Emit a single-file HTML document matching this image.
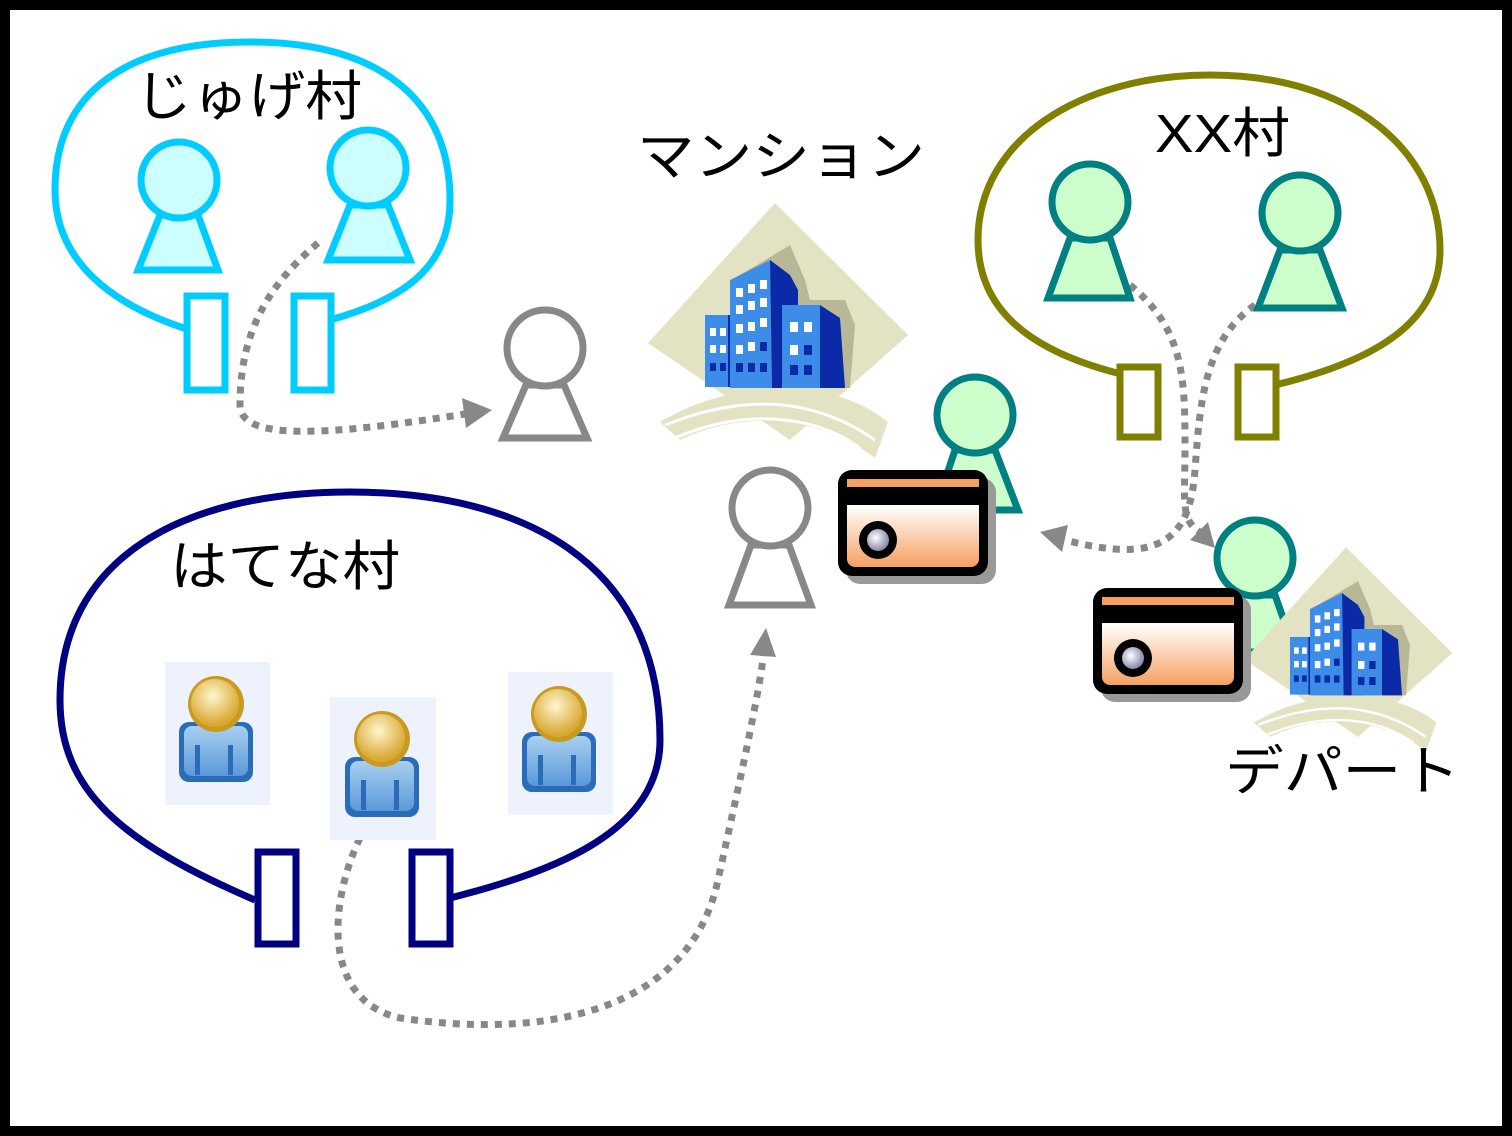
<!DOCTYPE html>
<html><head><meta charset="utf-8"><style>
html,body{margin:0;padding:0;background:#fff}
svg{display:block}
text{font-family:"Liberation Sans","Noto Sans CJK JP",sans-serif}
</style></head><body>
<svg width="1512" height="1136" viewBox="0 0 1512 1136" xmlns="http://www.w3.org/2000/svg">
<defs>
<linearGradient id="cg" x1="0" y1="0" x2="0" y2="1"><stop offset="0.3" stop-color="#fff"/><stop offset="1" stop-color="#f5a060"/></linearGradient>
<radialGradient id="lg" cx="0.4" cy="0.4" r="0.6"><stop offset="0" stop-color="#fff"/><stop offset="1" stop-color="#8888aa"/></radialGradient>
<radialGradient id="hg" cx="0.45" cy="0.35" r="0.6"><stop offset="0" stop-color="#fff6d0"/><stop offset="1" stop-color="#d9a830"/></radialGradient>
<linearGradient id="bg" x1="0" y1="0" x2="0" y2="1"><stop offset="0" stop-color="#a8d0f0"/><stop offset="1" stop-color="#5a98d8"/></linearGradient>
<g id="bld">
  <polygon points="135,3 268,135 150,240 8,143" fill="#e3e3c4"/>
  <polygon points="100,75 150,45 165,80 170,100 205,100 215,125 210,188 100,188" fill="#b8b898"/>
  <rect x="65" y="115" width="30" height="72" fill="#3c8ce8"/>
  <rect x="88" y="115" width="8" height="72" fill="#0a2aa8"/>
  <polygon points="90,80 130,60 132,188 90,188" fill="#3c8ce8"/>
  <polygon points="130,60 150,75 158,90 158,188 132,188" fill="#0a2aa8"/>
  <rect x="142" y="105" width="38" height="83" fill="#3c8ce8"/>
  <polygon points="180,105 200,118 205,188 180,188" fill="#0a2aa8"/>
  <g fill="#fff">
    <rect x="70" y="128" width="6" height="8"/><rect x="80" y="128" width="6" height="8"/>
    <rect x="70" y="145" width="6" height="8"/><rect x="80" y="145" width="6" height="8"/>
    <rect x="96" y="88" width="7" height="9"/><rect x="108" y="84" width="7" height="9"/><rect x="120" y="80" width="7" height="9"/>
    <rect x="96" y="105" width="7" height="9"/><rect x="108" y="101" width="7" height="9"/><rect x="120" y="98" width="7" height="9"/>
    <rect x="96" y="124" width="7" height="9"/><rect x="108" y="122" width="7" height="9"/><rect x="120" y="118" width="7" height="9"/>
    <rect x="96" y="145" width="7" height="9"/><rect x="108" y="142" width="7" height="9"/>
    <rect x="150" y="122" width="8" height="10"/><rect x="164" y="122" width="8" height="10"/>
    <rect x="150" y="145" width="8" height="10"/>
  </g>
  <g fill="#0a2aa8">
    <rect x="70" y="163" width="6" height="8"/><rect x="80" y="163" width="6" height="8"/>
    <rect x="96" y="163" width="7" height="9"/><rect x="108" y="163" width="7" height="9"/><rect x="120" y="163" width="7" height="9"/>
    <rect x="120" y="142" width="7" height="9"/><rect x="164" y="145" width="8" height="10"/>
    <rect x="150" y="165" width="8" height="10"/><rect x="164" y="165" width="8" height="10"/>
  </g>
  <path d="M20,222 C90,180 190,175 248,222 L235,258 C180,215 100,210 40,240 Z" fill="#e3e3c4"/>
  <path d="M25,225 C100,195 170,195 235,240" stroke="#fff" stroke-width="3" fill="none"/>
  <path d="M35,238 C100,210 170,212 220,248" stroke="#fff" stroke-width="3" fill="none"/>
</g>
<g id="card">
  <rect x="8" y="8" width="150" height="106" rx="14" fill="#999"/>
  <rect x="0" y="0" width="150" height="106" rx="14" fill="#000"/>
  <rect x="9" y="9" width="132" height="88" rx="8" fill="url(#cg)"/>
  <rect x="9" y="9" width="132" height="8" fill="#f5a060"/>
  <rect x="0" y="17" width="150" height="18" fill="#000"/>
  <circle cx="40" cy="70" r="19" fill="#000"/>
  <circle cx="40" cy="70" r="11" fill="url(#lg)"/>
</g>
<g id="uicon">
  <rect x="-16" y="42" width="74" height="60" rx="10" fill="#2a6cb8"/>
  <rect x="-11" y="46" width="64" height="50" rx="8" fill="url(#bg)"/>
  <rect x="0" y="65" width="5" height="30" fill="#2a6cb8"/><rect x="33" y="65" width="5" height="30" fill="#2a6cb8"/>
  <circle cx="21" cy="24" r="28" fill="#c89a20"/>
  <circle cx="20" cy="23" r="24" fill="url(#hg)"/>
</g>
</defs>

<rect x="0" y="0" width="1512" height="1136" fill="#000"/>
<rect x="10" y="10" width="1492" height="1116" fill="#fff"/>

<!-- じゅげ村 -->
<path d="M190,330 C110,305 55,260 55,190 C55,90 130,42 250,42 C380,42 450,100 450,200 C450,270 400,300 330,320" fill="none" stroke="#00ccff" stroke-width="7"/>
<rect x="187" y="296" width="38" height="94" fill="#fff" stroke="#00ccff" stroke-width="7"/>
<rect x="294" y="296" width="37" height="94" fill="#fff" stroke="#00ccff" stroke-width="7"/>
<text x="135" y="115" font-size="54" textLength="227" lengthAdjust="spacingAndGlyphs">じゅげ村</text>
<g fill="#ccffff" stroke="#00ccff" stroke-width="7">
<polygon points="160,215 198,215 218,270 138,270"/><circle cx="179" cy="180" r="38"/>
<polygon points="350,205 388,205 410,260 328,260"/><circle cx="368" cy="168" r="38"/>
</g>

<!-- gray persons -->
<g fill="#fff" stroke="#888" stroke-width="7">
<polygon points="526,385 564,385 587,438 503,438"/><circle cx="545" cy="348" r="38"/>
<polygon points="751,545 789,545 811,605 729,605"/><circle cx="770" cy="508" r="38"/>
</g>

<!-- dotted arrows -->
<g fill="none" stroke="#888" stroke-width="7" stroke-dasharray="7 7">
<path d="M318,243 C262,290 240,340 240,405 C240,440 320,437 465,414"/>
<path d="M360,838 C330,900 320,1000 400,1018 C550,1040 690,1010 718,880 C740,780 758,700 764,652"/>
<path d="M1130,285 C1185,330 1185,380 1185,450 C1185,500 1180,520 1200,532"/>
<path d="M1255,305 C1205,340 1200,400 1195,470 C1190,540 1160,565 1065,540"/>
</g>
<g fill="#888">
<polygon points="492,410 462,398 466,428"/>
<polygon points="766,628 750,655 776,657"/>
<polygon points="1215,548 1190,540 1208,522"/>
<polygon points="1040,532 1068,525 1062,552"/>
</g>

<!-- mansion -->
<text x="637" y="175" font-size="54" textLength="288" lengthAdjust="spacingAndGlyphs">マンション</text>
<use href="#bld" transform="translate(640,200)"/>

<!-- XX村 -->
<path d="M1125,375 C1030,352 978,310 978,240 C978,140 1080,75 1210,75 C1350,75 1440,150 1440,250 C1440,320 1380,360 1275,385" fill="none" stroke="#808000" stroke-width="7"/>
<rect x="1120" y="367" width="38" height="70" fill="#fff" stroke="#808000" stroke-width="7"/>
<rect x="1238" y="367" width="38" height="70" fill="#fff" stroke="#808000" stroke-width="7"/>
<text x="1155" y="152" font-size="54" textLength="135" lengthAdjust="spacingAndGlyphs">XX村</text>
<g fill="#ccffcc" stroke="#008080" stroke-width="7">
<polygon points="1070,238 1110,238 1130,298 1048,298"/><circle cx="1090" cy="202" r="38"/>
<polygon points="1280,250 1320,250 1342,308 1258,308"/><circle cx="1300" cy="213" r="38"/>
<polygon points="955,450 995,450 1018,510 935,510"/><circle cx="975" cy="415" r="38"/>
<polygon points="1235,595 1275,595 1295,652 1215,652"/><circle cx="1255" cy="558" r="38"/>
</g>

<!-- cards -->
<use href="#card" transform="translate(838,470)"/>
<use href="#bld" transform="translate(1238,545) scale(0.8)"/>
<use href="#card" transform="translate(1093,588)"/>
<text x="1225" y="790" font-size="54" textLength="235" lengthAdjust="spacingAndGlyphs">デパート</text>

<!-- はてな村 -->
<path d="M255,900 C120,842 60,790 60,700 C60,560 180,492 350,492 C520,492 660,560 660,740 C660,830 560,870 450,898" fill="none" stroke="#000080" stroke-width="7"/>
<rect x="258" y="852" width="38" height="92" fill="#fff" stroke="#000080" stroke-width="7"/>
<rect x="412" y="852" width="38" height="92" fill="#fff" stroke="#000080" stroke-width="7"/>
<text x="170" y="585" font-size="54" textLength="230" lengthAdjust="spacingAndGlyphs">はてな村</text>
<rect x="165" y="662" width="105" height="143" fill="#eef2fc"/>
<rect x="330" y="697" width="106" height="143" fill="#eef2fc"/>
<rect x="508" y="672" width="105" height="143" fill="#eef2fc"/>
<use href="#uicon" transform="translate(195,680)"/>
<use href="#uicon" transform="translate(361,715)"/>
<use href="#uicon" transform="translate(538,690)"/>
</svg>
</body></html>
